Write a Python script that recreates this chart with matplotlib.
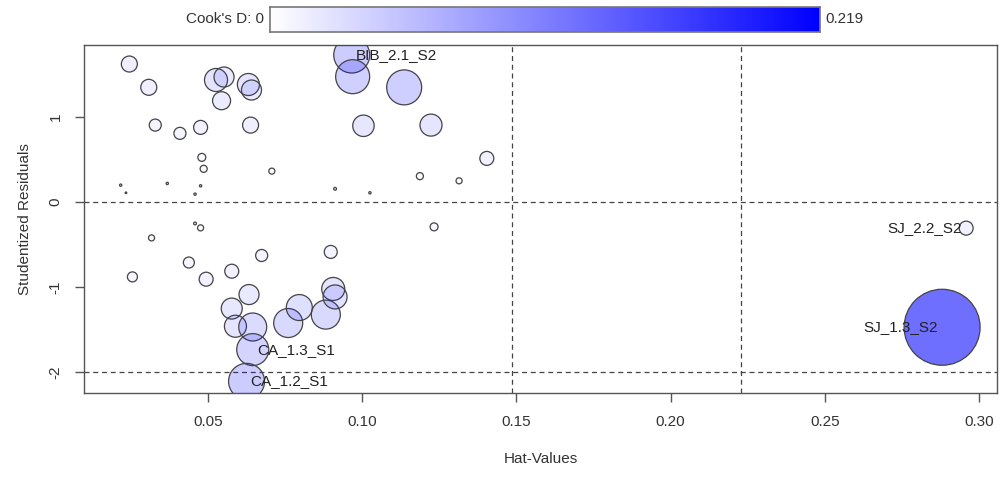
import matplotlib
matplotlib.use("Agg")
import matplotlib.pyplot as plt
import numpy as np
from matplotlib.colors import LinearSegmentedColormap

plt.rcParams['font.family'] = ['Liberation Sans', 'DejaVu Sans']

# hat-values, studentized residuals and Cook's distances
hat = [0.0245, 0.0308, 0.0526, 0.0552, 0.0544, 0.0631, 0.0641,
       0.0329, 0.0409, 0.0476, 0.0638, 0.0480, 0.0486, 0.0707,
       0.0217, 0.0234, 0.0368, 0.0476, 0.0458, 0.0912, 0.1025,
       0.1187, 0.1314, 0.1404, 0.0966, 0.0969, 0.1136, 0.1004, 0.1223,
       0.0458, 0.0476, 0.0317, 0.1233, 0.0255, 0.0438, 0.0494, 0.0577,
       0.0674, 0.0898, 0.0633, 0.0577, 0.0589, 0.0645, 0.0645, 0.0625,
       0.0760, 0.0796, 0.0882, 0.0906, 0.0912, 0.2958, 0.2880]
rstud = [1.626, 1.352, 1.438, 1.473, 1.194, 1.385, 1.320,
         0.907, 0.810, 0.880, 0.907, 0.527, 0.392, 0.365,
         0.200, 0.110, 0.220, 0.192, 0.094, 0.157, 0.110,
         0.306, 0.251, 0.515, 1.732, 1.477, 1.351, 0.899, 0.907,
         -0.251, -0.303, -0.421, -0.291, -0.880, -0.711, -0.907, -0.813,
         -0.628, -0.586, -1.088, -1.253, -1.461, -1.470, -1.736, -2.110,
         -1.423, -1.241, -1.324, -1.022, -1.116, -0.306, -1.473]
cook = [0.0097, 0.0097, 0.0201, 0.0152, 0.0123, 0.0184, 0.0152,
        0.0055, 0.0055, 0.0074, 0.0097, 0.0024, 0.0019, 0.0014,
        0.0002, 0.0001, 0.0002, 0.0002, 0.0002, 0.0003, 0.0002,
        0.0019, 0.0014, 0.0074, 0.0491, 0.0438, 0.0464, 0.0174, 0.0184,
        0.0003, 0.0014, 0.0014, 0.0024, 0.0038, 0.0046, 0.0074, 0.0074,
        0.0055, 0.0064, 0.0152, 0.0167, 0.0184, 0.0297, 0.0388, 0.0491,
        0.0319, 0.0256, 0.0319, 0.0201, 0.0218, 0.0074, 0.2190]
names = {24: "BIB_2.1_S2", 43: "CA_1.3_S1", 44: "CA_1.2_S1",
         50: "SJ_2.2_S2", 51: "SJ_1.3_S2"}
label_side = {24: "right", 43: "right", 44: "right", 50: "left", 51: "left"}

hat = np.array(hat)
rstud = np.array(rstud)
cook = np.array(cook)
cmax = 0.219
mean_hat = 0.0743

fs = 11
txt = '#333333'

fig = plt.figure(figsize=(10.01, 4.78), dpi=100)
ax = fig.add_axes([84 / 1001, 1 - 393 / 478, 913 / 1001, 348 / 478])

# circle radius in px proportional to sqrt(cook); max radius 38 px
rad_px = 38 * np.sqrt(cook / cmax)
rad_px = np.maximum(rad_px, 0.8)
size = (2 * rad_px * 72 / 100) ** 2
frac = cook / cmax
face = np.zeros((len(cook), 4))
face[:, 2] = 1.0
face[:, 3] = 0.57 * frac ** 0.7
ax.scatter(hat, rstud, s=size, facecolors=face, edgecolors='#444444',
           linewidths=0.9, zorder=3)

for v in [2 * mean_hat, 3 * mean_hat]:
    ax.axvline(v, color='#444444', lw=0.9, ls=(0, (4, 3)), zorder=1)
for h in [-2, 0, 2]:
    ax.axhline(h, color='#444444', lw=0.9, ls=(0, (4, 3)), zorder=1)

for i, nm in names.items():
    side = label_side[i]
    dx = 3 if side == "right" else -3
    ax.annotate(nm, (hat[i], rstud[i]), xytext=(dx, 0), textcoords='offset points',
                ha='left' if side == "right" else 'right', va='center',
                fontsize=fs, color='#222222', zorder=4)

ax.set_xlim(0.0098, 0.3058)
ax.set_ylim(-2.247, 1.850)
ax.set_xticks([0.05, 0.10, 0.15, 0.20, 0.25, 0.30])
ax.set_xticklabels(["0.05", "0.10", "0.15", "0.20", "0.25", "0.30"])
ax.set_yticks([-2, -1, 0, 1])
ax.set_yticklabels(["-2", "-1", "0", "1"], rotation=90, va='center')
for sp in ax.spines.values():
    sp.set_color('#555555')
    sp.set_linewidth(1.0)
ax.tick_params(direction='out', length=6.5, width=1, color='#555555',
               labelsize=fs, labelcolor=txt, pad=9)
ax.set_xlabel("Hat-Values", fontsize=fs, color=txt, labelpad=17)
ax.set_ylabel("Studentized Residuals", fontsize=fs, color=txt, labelpad=12)

# Cook's D colour key on top
cax = fig.add_axes([270 / 1001, 1 - 32 / 478, 550 / 1001, 25 / 478])
cmap = LinearSegmentedColormap.from_list("wb", ["white", "blue"])
grad = np.linspace(0, 1, 256).reshape(1, -1)
cax.imshow(grad, aspect='auto', cmap=cmap, extent=[0, cmax, 0, 1])
cax.set_xticks([])
cax.set_yticks([])
for sp in cax.spines.values():
    sp.set_color('#777777')
    sp.set_linewidth(1.2)
fig.text(264 / 1001, 1 - 19 / 478, "Cook's D: 0", ha='right', va='center',
         fontsize=fs, color=txt)
fig.text(825 / 1001, 1 - 19 / 478, "0.219", ha='left', va='center',
         fontsize=fs, color=txt)

fig.savefig("out.png", dpi=100)
